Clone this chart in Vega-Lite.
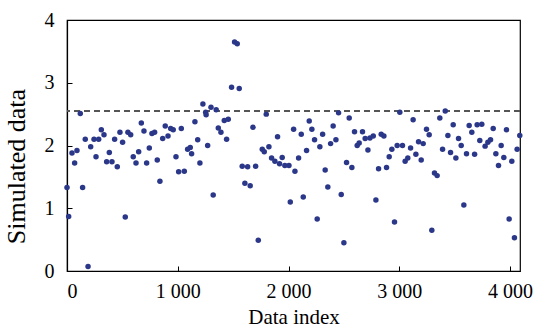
{
  "$schema": "https://vega.github.io/schema/vega-lite/v6.json",
  "width": 453,
  "height": 251,
  "autosize": "none",
  "padding": {"left": 67, "top": 20, "right": 15, "bottom": 64},
  "background": "white",
  "config": {
    "view": {"stroke": "black", "strokeWidth": 1.2},
    "font": "Liberation Serif",
    "axis": {
      "labelFont": "Liberation Serif",
      "titleFont": "Liberation Serif",
      "labelFontSize": 20,
      "titleFontSize": 21,
      "titleFontWeight": "normal",
      "labelColor": "black",
      "titleColor": "black",
      "domainColor": "black",
      "tickColor": "black",
      "grid": false,
      "tickSize": -5,
      "domainWidth": 1.2
    }
  },
  "data": {"values": [
    {"x": 120, "y": 2.51}, {"x": 165, "y": 2.10}, {"x": 214, "y": 1.98}, {"x": 45, "y": 1.88}, {"x": 90, "y": 1.92},
    {"x": 69, "y": 1.72}, {"x": 0, "y": 1.33}, {"x": 141, "y": 1.33}, {"x": 15, "y": 0.87}, {"x": 190, "y": 0.07},
    {"x": 244, "y": 2.10}, {"x": 286, "y": 2.10}, {"x": 310, "y": 2.25}, {"x": 334, "y": 2.17}, {"x": 262, "y": 1.82},
    {"x": 382, "y": 1.89}, {"x": 358, "y": 1.74}, {"x": 406, "y": 1.74}, {"x": 454, "y": 1.66}, {"x": 430, "y": 2.10},
    {"x": 478, "y": 2.21}, {"x": 502, "y": 2.05}, {"x": 526, "y": 0.86}, {"x": 550, "y": 2.21}, {"x": 575, "y": 2.17},
    {"x": 598, "y": 1.82}, {"x": 623, "y": 1.72}, {"x": 647, "y": 1.90}, {"x": 671, "y": 2.36}, {"x": 695, "y": 2.23},
    {"x": 719, "y": 1.72}, {"x": 743, "y": 1.96}, {"x": 767, "y": 2.19}, {"x": 791, "y": 2.21}, {"x": 815, "y": 1.77},
    {"x": 839, "y": 1.43}, {"x": 864, "y": 2.11}, {"x": 887, "y": 2.31}, {"x": 912, "y": 2.15}, {"x": 936, "y": 2.27},
    {"x": 959, "y": 2.25}, {"x": 984, "y": 1.82}, {"x": 1008, "y": 1.58}, {"x": 1032, "y": 2.27}, {"x": 1059, "y": 1.59},
    {"x": 1089, "y": 1.94}, {"x": 1125, "y": 1.87}, {"x": 1113, "y": 1.97}, {"x": 1155, "y": 2.38}, {"x": 1180, "y": 2.09},
    {"x": 1200, "y": 1.72}, {"x": 1227, "y": 2.66}, {"x": 1252, "y": 2.53}, {"x": 1256, "y": 2.49}, {"x": 1270, "y": 2.00},
    {"x": 1300, "y": 2.61}, {"x": 1320, "y": 1.21}, {"x": 1347, "y": 2.57}, {"x": 1366, "y": 2.28}, {"x": 1390, "y": 2.21},
    {"x": 1420, "y": 2.40}, {"x": 1456, "y": 2.42}, {"x": 1441, "y": 2.10}, {"x": 1486, "y": 2.93}, {"x": 1555, "y": 2.91},
    {"x": 1513, "y": 3.65}, {"x": 1537, "y": 3.62},
    {"x": 1582, "y": 1.67}, {"x": 1631, "y": 1.66}, {"x": 1703, "y": 1.67}, {"x": 1606, "y": 1.40}, {"x": 1654, "y": 1.36},
    {"x": 1679, "y": 2.29}, {"x": 1727, "y": 0.49}, {"x": 1763, "y": 1.94}, {"x": 1781, "y": 1.90}, {"x": 1799, "y": 2.50},
    {"x": 1823, "y": 1.98}, {"x": 1847, "y": 1.80}, {"x": 1877, "y": 1.75}, {"x": 1901, "y": 2.14}, {"x": 1919, "y": 1.71},
    {"x": 1943, "y": 1.81}, {"x": 1967, "y": 1.68}, {"x": 2004, "y": 1.68}, {"x": 2016, "y": 1.10}, {"x": 2046, "y": 2.26},
    {"x": 2058, "y": 1.59}, {"x": 2091, "y": 1.80}, {"x": 2115, "y": 2.18}, {"x": 2133, "y": 1.18}, {"x": 2163, "y": 1.92},
    {"x": 2187, "y": 2.39}, {"x": 2211, "y": 2.26}, {"x": 2235, "y": 2.09}, {"x": 2259, "y": 0.83}, {"x": 2283, "y": 1.98},
    {"x": 2308, "y": 2.18}, {"x": 2331, "y": 1.61}, {"x": 2355, "y": 1.34}, {"x": 2380, "y": 2.03}, {"x": 2428, "y": 2.09},
    {"x": 2403, "y": 2.31}, {"x": 2452, "y": 2.52}, {"x": 2476, "y": 1.22}, {"x": 2500, "y": 0.45}, {"x": 2524, "y": 1.73},
    {"x": 2548, "y": 2.44}, {"x": 2572, "y": 1.65}, {"x": 2596, "y": 2.22}, {"x": 2668, "y": 2.22}, {"x": 2620, "y": 2.00},
    {"x": 2638, "y": 2.04}, {"x": 2692, "y": 2.11}, {"x": 2735, "y": 2.12}, {"x": 2765, "y": 2.15}, {"x": 2717, "y": 1.93},
    {"x": 2789, "y": 1.13}, {"x": 2813, "y": 1.63}, {"x": 2885, "y": 1.65}, {"x": 2837, "y": 2.18}, {"x": 2861, "y": 2.15},
    {"x": 2909, "y": 1.82}, {"x": 2933, "y": 1.94}, {"x": 2957, "y": 0.78}, {"x": 2981, "y": 2.00}, {"x": 3029, "y": 2.00},
    {"x": 3005, "y": 2.53}, {"x": 3053, "y": 1.75}, {"x": 3077, "y": 1.80}, {"x": 3102, "y": 1.96}, {"x": 3125, "y": 2.41},
    {"x": 3150, "y": 1.86}, {"x": 3174, "y": 2.06}, {"x": 3216, "y": 2.03}, {"x": 3198, "y": 1.77}, {"x": 3246, "y": 2.26},
    {"x": 3270, "y": 2.17}, {"x": 3294, "y": 0.65}, {"x": 3318, "y": 1.56}, {"x": 3342, "y": 1.52}, {"x": 3366, "y": 2.44},
    {"x": 3391, "y": 1.94}, {"x": 3415, "y": 2.55}, {"x": 3439, "y": 2.16}, {"x": 3463, "y": 1.89}, {"x": 3487, "y": 2.33},
    {"x": 3511, "y": 1.80}, {"x": 3535, "y": 2.11}, {"x": 3559, "y": 2.00}, {"x": 3583, "y": 1.05}, {"x": 3607, "y": 1.87},
    {"x": 3631, "y": 2.32}, {"x": 3655, "y": 2.21}, {"x": 3680, "y": 1.86}, {"x": 3703, "y": 2.33}, {"x": 3745, "y": 2.34},
    {"x": 3727, "y": 2.08}, {"x": 3775, "y": 1.99}, {"x": 3800, "y": 2.05}, {"x": 3824, "y": 2.09}, {"x": 3848, "y": 2.27},
    {"x": 3872, "y": 1.87}, {"x": 3896, "y": 1.68}, {"x": 3920, "y": 2.00}, {"x": 3944, "y": 1.81}, {"x": 3968, "y": 2.25},
    {"x": 3992, "y": 0.83}, {"x": 4016, "y": 1.75}, {"x": 4040, "y": 0.53}, {"x": 4064, "y": 1.94}, {"x": 4088, "y": 2.16}
  ]},
  "layer": [
    {
      "mark": {"type": "rule", "color": "#555555", "strokeDash": [6, 4], "strokeWidth": 1.5},
      "encoding": {"y": {"datum": 2.55, "type": "quantitative"}}
    },
    {
      "mark": {"type": "circle", "size": 30, "color": "#2b3788", "opacity": 1},
      "encoding": {
        "x": {
          "field": "x", "type": "quantitative",
          "scale": {"domain": [0, 4090], "nice": false, "zero": false},
          "axis": {"title": "Data index", "values": [0, 1000, 2000, 3000, 4000],
                   "labelExpr": "replace(format(datum.value, ','), ',', ' ')",
                   "labelPadding": 15, "titlePadding": 5}
        },
        "y": {
          "field": "y", "type": "quantitative",
          "scale": {"domain": [0, 4], "nice": false},
          "axis": {"title": "Simulated data", "titleFontSize": 26, "values": [0, 1, 2, 3, 4], "format": "d",
                   "labelPadding": 18, "titleX": -38, "titleY": 146}
        }
      }
    }
  ]
}
